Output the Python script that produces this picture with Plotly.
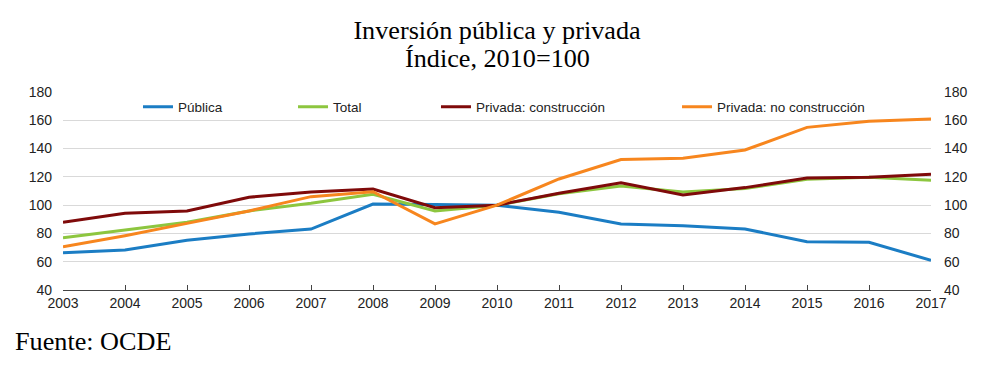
import plotly.graph_objects as go

years = list(range(2003, 2018))
publica = [66.4, 68.3, 75.1, 79.6, 83.1, 100.8, 100.5, 100, 95.0, 86.7, 85.5, 83.1, 74.2, 73.7, 61.0]
total = [77.0, 82.4, 87.9, 95.9, 101.3, 107.7, 95.9, 100, 108.0, 113.5, 109.3, 111.8, 118.3, 119.7, 117.6]
construccion = [87.9, 94.2, 95.9, 105.6, 109.3, 111.4, 98.2, 100, 108.4, 115.9, 107.2, 112.4, 119.2, 119.7, 121.8]
no_construccion = [70.6, 78.4, 87.1, 95.9, 106.0, 109.5, 86.7, 100, 118.5, 132.2, 133.1, 139.0, 155.0, 159.3, 160.9]

names = ["Pública", "Total", "Privada: construcción", "Privada: no construcción"]
series = [publica, total, construccion, no_construccion]
colors = ["#1B7DC4", "#8DC63F", "#7F0A0A", "#F7861E"]
legend_ids = ["legend", "legend2", "legend3", "legend4"]
legend_x = [0.0864, 0.265, 0.4297, 0.7074]

y_ticks = [40, 60, 80, 100, 120, 140, 160, 180]

title_line1 = "Inversión pública y privada"
title_line2 = "Índice, 2010=100"
source_text = "Fuente: OCDE"

fig = go.Figure()
for i in range(4):
    fig.add_trace(go.Scatter(
        x=years, y=series[i], name=names[i], mode="lines",
        line=dict(color=colors[i], width=3),
        legend=legend_ids[i],
    ))
# invisible trace to anchor the right axis
fig.add_trace(go.Scatter(x=years, y=total, yaxis="y2", mode="lines",
                         line=dict(color="rgba(0,0,0,0)"), showlegend=False,
                         hoverinfo="skip"))

tick_font = dict(family="Liberation Sans, Arial, sans-serif", size=14, color="#222")
legend_font = dict(family="Liberation Sans, Arial, sans-serif", size=13.5, color="#222")
serif_font = dict(family="Liberation Serif, Times New Roman, serif", size=26.2, color="#000")

layout_legends = {}
for lid, lx in zip(legend_ids, legend_x):
    layout_legends[lid] = dict(
        x=lx, y=0.924, xanchor="left", yanchor="middle",
        orientation="h", font=legend_font, bgcolor="rgba(0,0,0,0)",
        borderwidth=0,
    )

fig.update_layout(
    width=994, height=373,
    margin=dict(l=63, r=63, t=92, b=83),
    paper_bgcolor="white", plot_bgcolor="white",
    title=dict(
        text=title_line1, x=0.5, xanchor="center",
        yref="container", y=1 - 30 / 373, yanchor="middle",
        font=serif_font,
    ),
    xaxis=dict(
        range=[2003, 2017], tickmode="array", tickvals=years,
        ticktext=[str(y) for y in years],
        showgrid=False, zeroline=False,
        showline=True, linecolor="#444", linewidth=1,
        ticks="inside", ticklen=5, tickcolor="#444",
        tickfont=tick_font,
    ),
    yaxis=dict(
        range=[40, 180], tickmode="array", tickvals=y_ticks,
        showgrid=True, gridcolor="#D9D9D9", gridwidth=1,
        zeroline=False, showline=False, ticks="",
        tickfont=tick_font, ticklabelstandoff=10,
    ),
    yaxis2=dict(
        range=[40, 180], tickmode="array", tickvals=y_ticks,
        overlaying="y", side="right", showgrid=False,
        zeroline=False, showline=False, ticks="",
        tickfont=tick_font, ticklabelstandoff=12,
    ),
    annotations=[
        dict(text=title_line2, xref="paper", yref="paper",
             x=0.5, y=(290 - 59) / 198, xanchor="center", yanchor="middle",
             showarrow=False, font=serif_font),
        dict(text=source_text, xref="paper", yref="paper",
             x=-0.058, y=(290 - 341) / 198, xanchor="left", yanchor="middle",
             showarrow=False, font=serif_font),
    ],
    **layout_legends,
)

fig.write_html("out.html", config={"displayModeBar": False},
               post_script="document.body.style.margin='0';")
